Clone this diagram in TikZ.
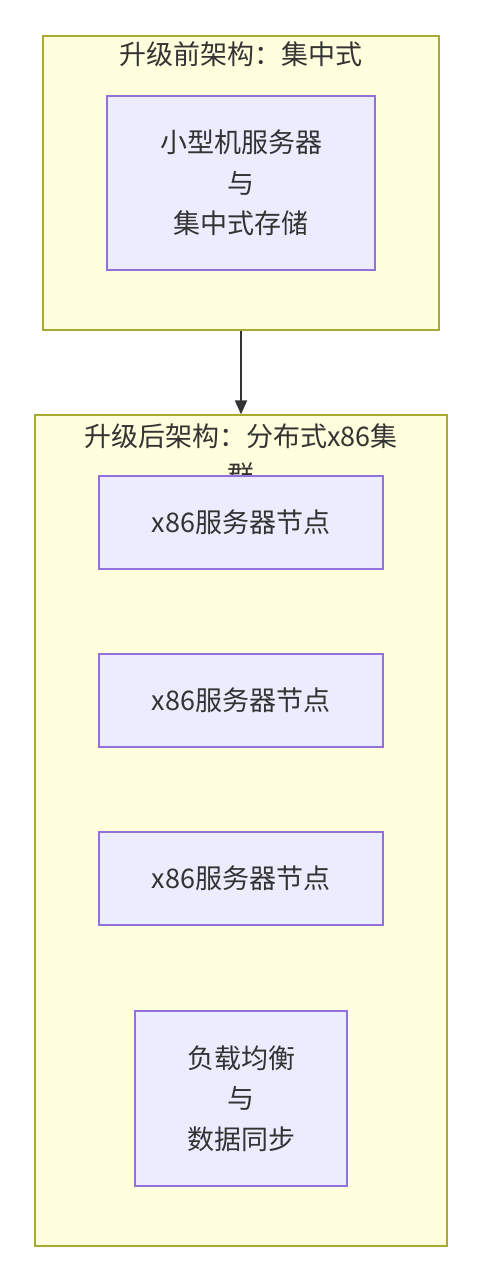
\documentclass[tikz,border=0pt]{standalone}
\usepackage{fontspec}
\setmainfont{Noto Sans CJK SC}
\usetikzlibrary{arrows.meta}
\definecolor{clfill}{HTML}{FFFFDE}
\definecolor{cldraw}{HTML}{AAAA33}
\definecolor{ndfill}{HTML}{ECECFF}
\definecolor{nddraw}{HTML}{9370DB}
\definecolor{txt}{HTML}{333333}
\tikzset{
  cluster/.style={draw=cldraw, fill=clfill, line width=1.2pt, inner sep=0pt},
  box/.style={draw=nddraw, fill=ndfill, line width=1.5pt, inner sep=0pt, align=center,
    text=txt, font=\fontsize{27}{40.5}\selectfont},
  ttl/.style={text=txt, font=\fontsize{27}{39}\selectfont, inner sep=0pt, align=center},
  conn/.style={draw=txt, line width=1.8pt, -{Triangle[length=14pt,width=12pt]}}
}
\begin{document}
\begin{tikzpicture}[x=1pt,y=-1pt]
\useasboundingbox (0,0) rectangle (482,1281);
% cluster 1
\node[cluster, minimum width=396pt, minimum height=294pt] (c1) at (241,183) {};
\node[ttl] (t1) at (241,54) {升级前架构：集中式};
\node[box, minimum width=268pt, minimum height=174pt] (n1) at (241,183) {小型机服务器\\与\\集中式存储};
% cluster 2
\node[cluster, minimum width=412pt, minimum height=831pt] (c2) at (241,830.5) {};
\node[ttl, anchor=north] (t2) at (241,424) {升级后架构：分布式x86集\\群};
\node[box, minimum width=284pt, minimum height=93pt] (a) at (241,522.5) {x86服务器节点};
\node[box, minimum width=284pt, minimum height=93pt] (b) at (241,700.5) {x86服务器节点};
\node[box, minimum width=284pt, minimum height=93pt] (c) at (241,878.5) {x86服务器节点};
\node[box, minimum width=212pt, minimum height=175pt] (d) at (241,1098.5) {负载均衡\\与\\数据同步};
% connector
\draw[conn] (c1.south) -- (c2.north);
\end{tikzpicture}
\end{document}
